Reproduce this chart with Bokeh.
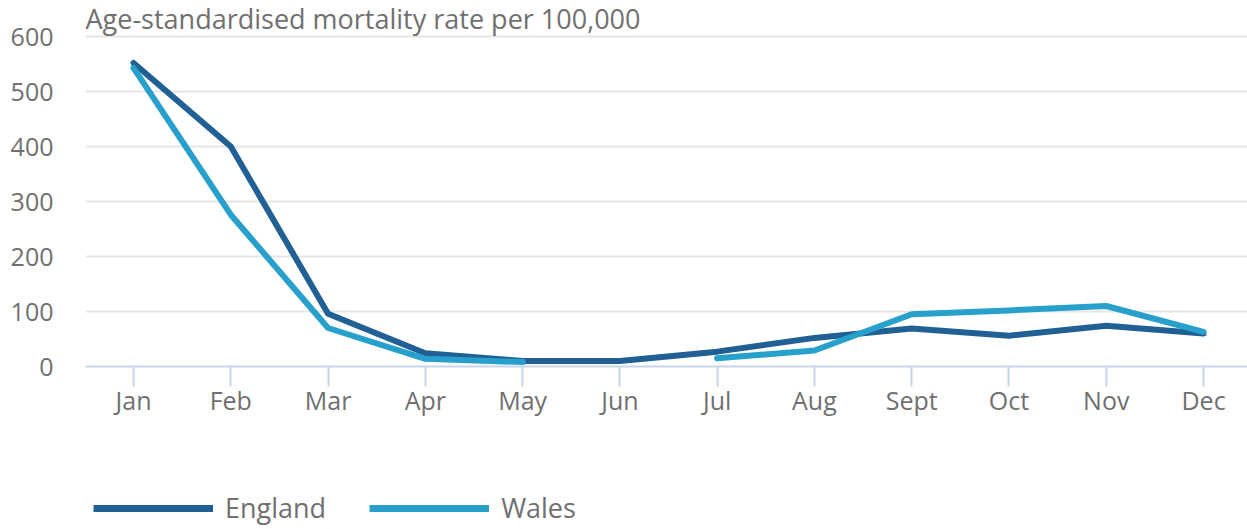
import math
from bokeh.plotting import figure
from bokeh.layouts import column
from bokeh.models import Range1d, FixedTicker, Legend, LegendItem, Label
from bokeh.embed import file_html
from bokeh.resources import INLINE

months = ["Jan", "Feb", "Mar", "Apr", "May", "Jun", "Jul", "Aug", "Sept", "Oct", "Nov", "Dec"]
england = [552, 400, 96, 24, 10, 10, 27, 52, 69, 56, 74, 60]
wales = [543, 276, 70, 14, 8, math.nan, 15, 29, 95, 102, 110, 63]
y_ticks = [0, 100, 200, 300, 400, 500, 600]
series_names = ["England", "Wales"]
title_text = "Age-standardised mortality rate per 100,000"

ENG = "#206095"
WAL = "#27a0cc"
TXT = "#707070"
FONT = "Open Sans"

x = list(range(len(months)))
X0, X1 = -0.4935, 11.452
Y1 = 665.5

p = figure(width=1247, height=470, output_backend="svg", toolbar_location=None,
           x_range=Range1d(X0, X1), y_range=Range1d(0, Y1),
           min_border_left=85, min_border_right=0, min_border_top=0, min_border_bottom=104)
p.outline_line_color = None
p.background_fill_color = "white"
p.border_fill_color = "white"

p.xgrid.grid_line_color = None
p.ygrid.grid_line_color = "#e6e6e6"
p.ygrid.grid_line_width = 2
p.ygrid.ticker = FixedTicker(ticks=y_ticks)

p.yaxis.ticker = FixedTicker(ticks=y_ticks)
p.yaxis.axis_line_color = None
p.yaxis.major_tick_line_color = None
p.yaxis.minor_tick_line_color = None
p.yaxis.major_label_standoff = 26
p.yaxis.major_label_text_font = FONT
p.yaxis.major_label_text_font_size = "25px"
p.yaxis.major_label_text_color = TXT

p.xaxis.ticker = FixedTicker(ticks=x)
p.xaxis.major_label_overrides = {i: m for i, m in enumerate(months)}
p.xaxis.axis_line_color = "#c9d5ea"
p.xaxis.axis_line_width = 2
p.xaxis.major_tick_line_color = "#c9d5ea"
p.xaxis.major_tick_line_width = 2
p.xaxis.major_tick_in = 0
p.xaxis.major_tick_out = 20
p.xaxis.minor_tick_line_color = None
p.xaxis.major_label_standoff = -4
p.xaxis.major_label_text_font = FONT
p.xaxis.major_label_text_font_size = "25px"
p.xaxis.major_label_text_color = TXT

p.add_layout(Label(x=X0, y=632, text=title_text, text_font=FONT, text_font_size="27px",
                   text_color=TXT, text_align="left", text_baseline="alphabetic"))

p.line(x, england, line_color=ENG, line_width=6, line_join="round", line_cap="round")
p.line(x, wales, line_color=WAL, line_width=6, line_join="round", line_cap="round")

# legend strip below the chart
pl = figure(width=1247, height=59, output_backend="svg", toolbar_location=None,
            x_range=Range1d(0, 1), y_range=Range1d(0, 1),
            min_border_left=0, min_border_right=0, min_border_top=0, min_border_bottom=0)
pl.outline_line_color = None
pl.axis.visible = False
pl.grid.visible = False
l_eng = pl.line([-10, -9], [-10, -9], line_color=ENG, line_width=7)
l_wal = pl.line([-10, -9], [-10, -9], line_color=WAL, line_width=7)

legend = Legend(items=[LegendItem(label=series_names[0], renderers=[l_eng]),
                       LegendItem(label=series_names[1], renderers=[l_wal])],
                orientation="horizontal", location=(8, 3),
                glyph_width=120, glyph_height=20, label_height=20, label_standoff=12,
                spacing=43, padding=0, margin=0,
                border_line_color=None, background_fill_alpha=0,
                label_text_font=FONT, label_text_font_size="27px", label_text_color=TXT)
pl.add_layout(legend)

layout = column(p, pl, spacing=0)
open("out.html", "w").write(file_html(layout, INLINE))
